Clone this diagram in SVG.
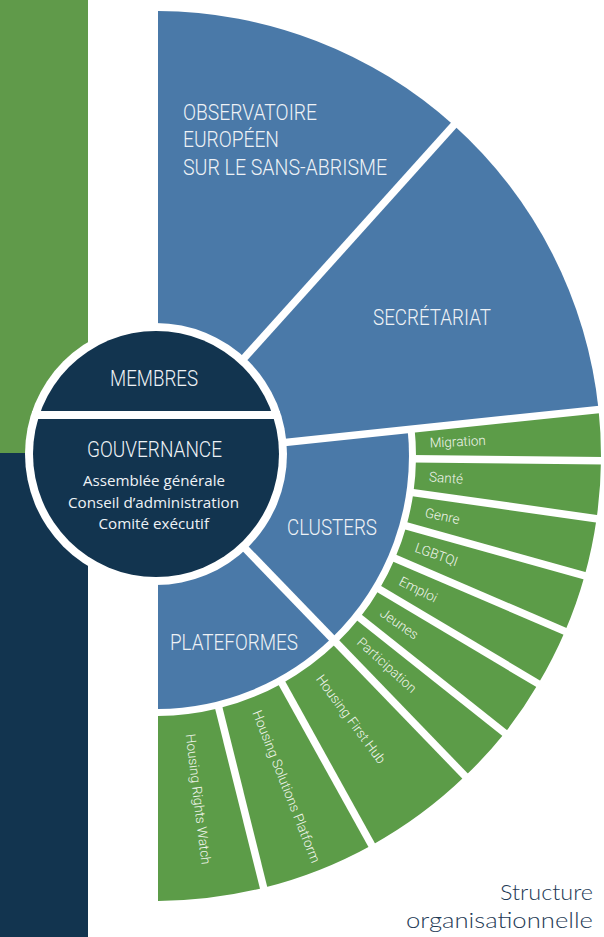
<svg xmlns="http://www.w3.org/2000/svg" width="604" height="937" viewBox="0 0 604 937">
<style>
.blue{fill:#4a79a8}
.green{fill:#5c9c48}
.navy{fill:#12344f}
.cap{font-family:Roboto,"Liberation Sans",sans-serif;font-weight:300;font-size:22.5px;fill:#eef2f6}
.small{font-family:"Open Sans","Liberation Sans",sans-serif;font-size:15px;fill:#eef2f6}
.lab{font-family:Roboto,"Liberation Sans",sans-serif;font-weight:300;font-size:13.5px;fill:#f0f5ec}
.div{stroke:#fff;stroke-width:7.5;fill:none}
.title{font-family:Lato,"Liberation Sans",sans-serif;font-weight:300;font-size:22px;fill:#1e3a56}
</style>
<rect x="0" y="0" width="604" height="937" fill="#fff"/>
<g id="background">
<rect x="0" y="0" width="88" height="453" fill="#609a4a"/>
<rect x="0" y="453" width="88" height="484" class="navy"/>
</g>
<g id="observatoire">
<path class="blue" d="M158,456 L158,11 A445,445 0 0 1 453.76,125.30 Z"/>
<text class="cap" x="183" y="120" textLength="134" lengthAdjust="spacingAndGlyphs">OBSERVATOIRE</text>
<text class="cap" x="183" y="147" textLength="96" lengthAdjust="spacingAndGlyphs">EUROPÉEN</text>
<text class="cap" x="183" y="175" textLength="204" lengthAdjust="spacingAndGlyphs">SUR LE SANS-ABRISME</text>
</g>
<g id="secretariat">
<path class="blue" d="M158,456 L453.76,125.30 A445,445 0 0 1 598.56,409.48 Z"/>
<text class="cap" x="373" y="325" textLength="118" lengthAdjust="spacingAndGlyphs">SECRÉTARIAT</text>
</g>
<g id="clusters">
<path class="blue" d="M158,456 L407.61,429.55 A253,253 0 0 1 331.75,637.99 Z"/>
<text class="cap" x="287" y="535" textLength="90" lengthAdjust="spacingAndGlyphs">CLUSTERS</text>
</g>
<g id="plateformes">
<path class="blue" d="M158,456 L331.75,637.99 A253,253 0 0 1 158,709 Z"/>
<text class="cap" x="170" y="650" textLength="128" lengthAdjust="spacingAndGlyphs">PLATEFORMES</text>
</g>
<g id="migration">
<path class="green" d="M414.58,428.82 L598.56,409.48 A445,445 0 0 1 600.98,460.66 L415.99,458.72 A260,260 0 0 0 414.58,428.82 Z"/>
<text class="lab" transform="translate(429.7,443.1) rotate(-2.7)" x="0" y="4.5">Migration</text>
</g>
<g id="sante">
<path class="green" d="M415.99,458.72 L600.98,460.66 A445,445 0 0 1 596.56,518.70 L413.41,492.63 A260,260 0 0 0 415.99,458.72 Z"/>
<text class="lab" transform="translate(429.2,476.8) rotate(4.35)" x="0" y="4.5">Santé</text>
</g>
<g id="genre">
<path class="green" d="M413.41,492.63 L596.56,518.70 A445,445 0 0 1 584.61,575.67 L406.42,525.92 A260,260 0 0 0 413.41,492.63 Z"/>
<text class="lab" transform="translate(425.2,512.5) rotate(11.85)" x="0" y="4.5">Genre</text>
</g>
<g id="lgbtqi">
<path class="green" d="M406.42,525.92 L584.61,575.67 A445,445 0 0 1 565.02,631.30 L394.98,558.42 A260,260 0 0 0 406.42,525.92 Z"/>
<text class="lab" transform="translate(415.4,547.3) rotate(19.4)" x="0" y="4.5">LGBTQI</text>
</g>
<g id="emploi">
<path class="green" d="M394.98,558.42 L565.02,631.30 A445,445 0 0 1 538.24,683.86 L379.33,589.13 A260,260 0 0 0 394.98,558.42 Z"/>
<text class="lab" transform="translate(400.1,580.4) rotate(27)" x="0" y="4.5">Emploi</text>
</g>
<g id="jeunes">
<path class="green" d="M379.33,589.13 L538.24,683.86 A445,445 0 0 1 504.74,733.02 L359.76,617.85 A260,260 0 0 0 379.33,589.13 Z"/>
<text class="lab" transform="translate(381.5,611.6) rotate(34.6)" x="0" y="4.5">Jeunes</text>
</g>
<g id="participation">
<path class="green" d="M359.76,617.85 L504.74,733.02 A445,445 0 0 1 465.12,776.11 L336.61,643.03 A260,260 0 0 0 359.76,617.85 Z"/>
<text class="lab" transform="translate(359.0,640.1) rotate(42.2)" x="0" y="4.5">Participation</text>
</g>
<g id="housing-first-hub">
<path class="green" d="M336.61,643.03 L465.12,776.11 A445,445 0 0 1 371.74,845.21 L282.05,683.40 A260,260 0 0 0 336.61,643.03 Z"/>
<text class="lab" transform="translate(319.0,676.3) rotate(53.5)" x="0" y="4.5">Housing First Hub</text>
</g>
<g id="housing-solutions-platform">
<path class="green" d="M282.05,683.40 L371.74,845.21 A445,445 0 0 1 263.65,887.78 L218.90,708.28 A260,260 0 0 0 282.05,683.40 Z"/>
<text class="lab" transform="translate(256.4,710.9) rotate(68.5)" x="0" y="4.5">Housing Solutions Platform</text>
</g>
<g id="housing-rights-watch">
<path class="green" d="M218.90,708.28 L263.65,887.78 A445,445 0 0 1 158,901 L158,716 A260,260 0 0 0 218.90,708.28 Z"/>
<text class="lab" transform="translate(190.1,733.9) rotate(83)" x="0" y="4.5">Housing Rights Watch</text>
</g>
<g id="connectors">
<line class="div" x1="156" y1="456" x2="458.45" y2="120.10"/>
<line class="div" x1="156" y1="456" x2="605.5" y2="408.75"/>
<line class="div" x1="156" y1="456" x2="469.99" y2="781.14"/>
<line class="div" x1="412.0" y1="458.7" x2="608.0" y2="460.7"/>
<line class="div" x1="409.4" y1="492.1" x2="603.5" y2="519.7"/>
<line class="div" x1="402.6" y1="524.8" x2="591.4" y2="577.6"/>
<line class="div" x1="391.3" y1="556.8" x2="571.5" y2="634.1"/>
<line class="div" x1="375.9" y1="587.1" x2="544.3" y2="687.4"/>
<line class="div" x1="356.6" y1="615.4" x2="510.2" y2="737.4"/>
<line class="div" x1="280.1" y1="679.9" x2="375.1" y2="851.3"/>
<line class="div" x1="217.9" y1="704.4" x2="265.3" y2="894.6"/>
</g>
<g id="centre">
<circle cx="156" cy="454" r="131" fill="#fff"/>
<circle cx="156" cy="454" r="123" class="navy"/>
<rect x="32" y="411" width="248" height="8" fill="#fff"/>
</g>
<g id="membres">
<text class="cap" x="110" y="386" textLength="88" lengthAdjust="spacingAndGlyphs">MEMBRES</text>
</g>
<g id="gouvernance">
<text class="cap" x="87" y="457" textLength="135" lengthAdjust="spacingAndGlyphs">GOUVERNANCE</text>
<text class="small" x="83" y="486" textLength="142" lengthAdjust="spacingAndGlyphs">Assemblée générale</text>
<text class="small" x="68" y="507.5" textLength="171" lengthAdjust="spacingAndGlyphs">Conseil d’administration</text>
<text class="small" x="98.5" y="529" textLength="110.5" lengthAdjust="spacingAndGlyphs">Comité exécutif</text>
</g>
<g id="title">
<text class="title" x="500" y="900" textLength="93" lengthAdjust="spacingAndGlyphs">Structure</text>
<text class="title" x="406" y="928" textLength="187" lengthAdjust="spacingAndGlyphs">organisationnelle</text>
</g>
</svg>
